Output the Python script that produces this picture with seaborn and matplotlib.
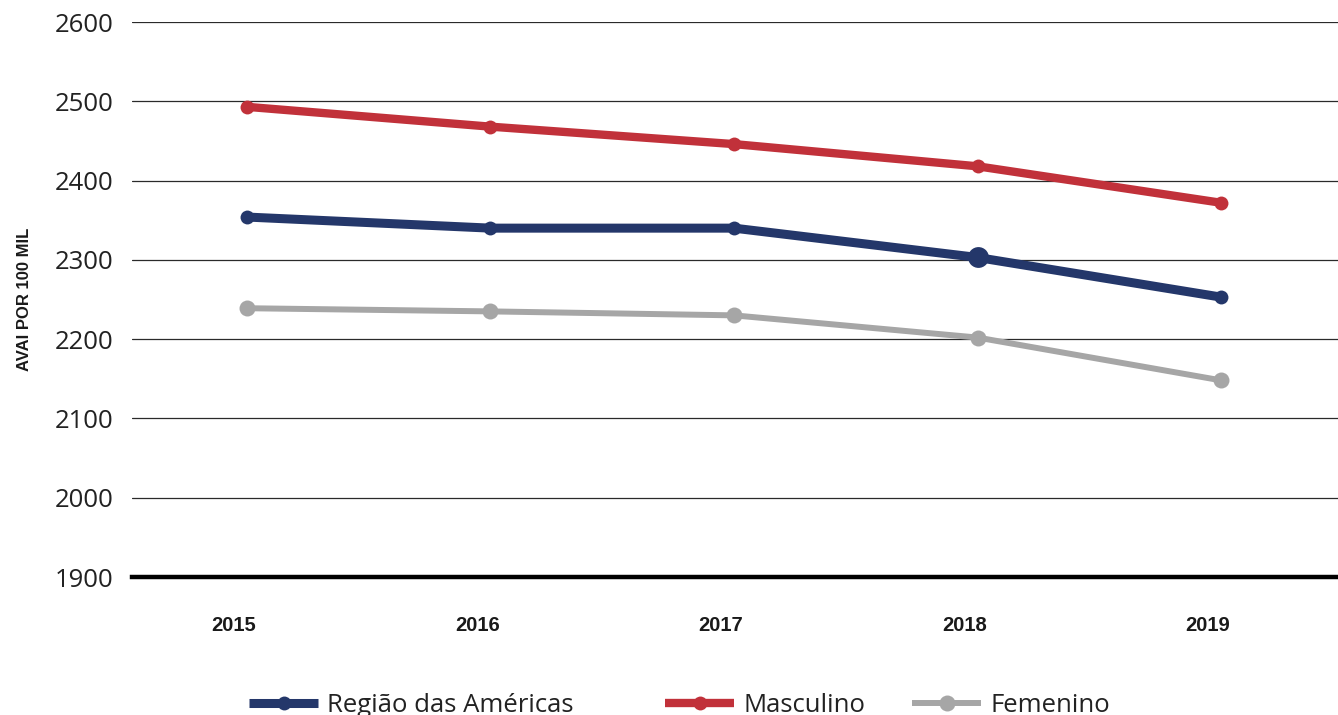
import matplotlib
matplotlib.use("Agg")
import matplotlib.pyplot as plt
import matplotlib.transforms as mtransforms
from matplotlib import font_manager
import pandas as pd
import seaborn as sns

# ---- data ----
years = [2015, 2016, 2017, 2018, 2019]
regiao = [2354, 2340, 2340, 2303, 2253]
masculino = [2493, 2468, 2446, 2418, 2372]
femenino = [2239, 2235, 2230, 2202, 2148]
series_names = ["Região das Américas", "Masculino", "Femenino"]
y_ticks = [1900, 2000, 2100, 2200, 2300, 2400, 2500, 2600]
y_label = "AVAI POR 100 MIL"

colors = {"Região das Américas": "#24376A", "Masculino": "#C1313A", "Femenino": "#A6A6A6"}
widths = {"Região das Américas": 6.5, "Masculino": 6.0, "Femenino": 4.3}
msizes = {"Região das Américas": 10, "Masculino": 10, "Femenino": 11.5}


def pick_font(candidates):
    names = {f.name for f in font_manager.fontManager.ttflist}
    for c in candidates:
        if c in names:
            return c
    return "DejaVu Sans"


sns.set_theme(style="white")
body_font = pick_font(["Open Sans", "Lato", "Noto Sans"])
narrow_font = pick_font(["Liberation Sans Narrow", "DejaVu Sans Condensed", "Liberation Sans"])
plt.rcParams["font.family"] = [body_font, "DejaVu Sans"]

df = pd.DataFrame({
    "ano": years * 3,
    "valor": regiao + masculino + femenino,
    "serie": [series_names[0]] * 5 + [series_names[1]] * 5 + [series_names[2]] * 5,
})

fig = plt.figure(figsize=(13.38, 7.15), dpi=100)
ax = fig.add_axes([132 / 1338, 1 - 577 / 715, 1 - 132 / 1338, (577 - 22) / 715])

# Draw gray first so the other series sit on top
for name in [series_names[2], series_names[1], series_names[0]]:
    sub = df[df["serie"] == name]
    sns.lineplot(data=sub, x="ano", y="valor", ax=ax, color=colors[name],
                 linewidth=widths[name], marker="o", markersize=msizes[name],
                 markeredgewidth=0, label=name, solid_capstyle="butt", zorder=3)

# Emphasised 2018 point of the regional series
ax.plot([years[3]], [regiao[3]], "o", color=colors[series_names[0]],
        markersize=15, markeredgewidth=0, zorder=4)

ax.set_xlim(years[0] - 0.472, years[-1] + 0.48)
ax.set_ylim(y_ticks[0], y_ticks[-1])
ax.set_yticks(y_ticks)
ax.set_xticks(years)
ax.set_xticklabels([str(y) for y in years])
ax.set_xlabel("")
ax.set_ylabel("")

ax.yaxis.grid(True, color="#2a2a2a", linewidth=0.9)
ax.xaxis.grid(False)
for side in ["top", "right", "left"]:
    ax.spines[side].set_visible(False)
ax.spines["bottom"].set_color("black")
ax.spines["bottom"].set_linewidth(3.2)
ax.spines["bottom"].set_zorder(5)

ax.tick_params(axis="y", length=0, pad=13, labelsize=18.5, labelcolor="#222222")
ax.tick_params(axis="x", length=0, pad=28, labelsize=14.5, labelcolor="#1a1a1a")
shift = mtransforms.ScaledTranslation(-13 / 100, 0, fig.dpi_scale_trans)
for lbl in ax.get_xticklabels():
    lbl.set_fontfamily([narrow_font, "DejaVu Sans"])
    lbl.set_fontweight("bold")
    lbl.set_transform(lbl.get_transform() + shift)

fig.text(25 / 1338, 1 - 299 / 715, y_label, rotation=90, ha="center", va="center",
         fontsize=12, fontweight="bold", family=[narrow_font, "DejaVu Sans"], color="#1a1a1a")

# Legend entries placed individually along the bottom edge
handles, labels = ax.get_legend_handles_labels()
ax.get_legend().remove()
lookup = dict(zip(labels, handles))
legend_x = {"Região das Américas": 249, "Masculino": 665, "Femenino": 912}
for name in series_names:
    leg = fig.legend([lookup[name]], [name], loc="center left",
                     bbox_to_anchor=(legend_x[name] / 1338, 1 - 705 / 715),
                     frameon=False, fontsize=18.5, handlelength=2.7, handletextpad=0.35,
                     borderpad=0, borderaxespad=0, numpoints=1)
    for t in leg.get_texts():
        t.set_color("#222222")

fig.savefig("out.png", dpi=100)
